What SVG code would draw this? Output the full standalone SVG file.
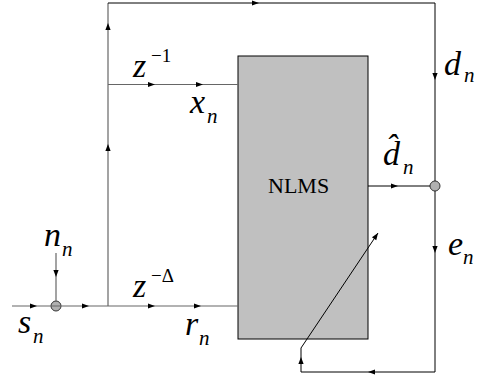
<svg xmlns="http://www.w3.org/2000/svg" xmlns:xlink="http://www.w3.org/1999/xlink" width="480" height="388" viewBox="0 0 480 388">
<style>
.ln{fill:none;stroke:#000;stroke-width:1}
.lg{fill:none;stroke:#666;stroke-width:1.2}
.j{fill:#b0b0b0;stroke:#333;stroke-width:1}
</style>
<defs>
<path id="ah" d="M0,0 L-7,-2.6 L-7,2.6 Z" fill="#000"/>
</defs>
<rect width="480" height="388" fill="#fff"/>
<g id="nlms">
<rect x="238" y="56" width="130" height="283" fill="#c0c0c0" stroke="#000" stroke-width="1"/>
<text x="268" y="193" font-family="Liberation Serif, Times New Roman, serif" font-size="22" fill="#000">NLMS</text>
</g>
<g id="sum1">
<circle class="j" cx="56" cy="306" r="5"/>
</g>
<g id="sum2">
<circle class="j" cx="435" cy="186" r="5"/>
</g>
<g id="connectors">
<path class="lg" d="M12,306 H238"/>
<path class="lg" d="M56,253 V301"/>
<path class="lg" d="M108,306 V3"/>
<path class="ln" d="M108,3 H435 V181 M435,191 V372 H301 V348"/>
<path class="lg" d="M108,84.5 H238"/>
<path class="ln" d="M368,186 H430"/>
<path class="ln" d="M301,348 L378,233"/>
<use xlink:href="#ah" transform="translate(37,306)"/>
<use xlink:href="#ah" transform="translate(89,306)"/>
<use xlink:href="#ah" transform="translate(155,306)"/>
<use xlink:href="#ah" transform="translate(201,306)"/>
<use xlink:href="#ah" transform="translate(56,277) rotate(90)"/>
<use xlink:href="#ah" transform="translate(108,144) rotate(-90)"/>
<use xlink:href="#ah" transform="translate(108,23) rotate(-90)"/>
<use xlink:href="#ah" transform="translate(155,84.5)"/>
<use xlink:href="#ah" transform="translate(203,84.5)"/>
<use xlink:href="#ah" transform="translate(259,3)"/>
<use xlink:href="#ah" transform="translate(435,80) rotate(90)"/>
<use xlink:href="#ah" transform="translate(435,253) rotate(90)"/>
<use xlink:href="#ah" transform="translate(398,186)"/>
<use xlink:href="#ah" transform="translate(368,372) rotate(180)"/>
<use xlink:href="#ah" transform="translate(301,357) rotate(-90)"/>
<use xlink:href="#ah" transform="translate(378,233) rotate(-56.2)"/>
</g>
<g id="labels" font-family="Liberation Serif, Times New Roman, serif" font-style="italic" fill="#000" font-size="34">
<text x="133" y="77">z</text><text x="151" y="62" font-size="19" font-style="normal">−1</text>
<text x="133" y="297">z</text><text x="151" y="282" font-size="19" font-style="normal">−Δ</text>
<text x="190" y="113">x</text><text x="207" y="123" font-size="21">n</text>
<text x="444" y="75">d</text><text x="464" y="82" font-size="21">n</text>
<text x="383" y="165">d&#x302;</text><text x="403" y="174" font-size="21">n</text>
<text x="448" y="255">e</text><text x="463" y="264" font-size="21">n</text>
<text x="44" y="246">n</text><text x="62" y="256" font-size="21">n</text>
<text x="18" y="333">s</text><text x="33" y="343" font-size="21">n</text>
<text x="185" y="335">r</text><text x="199" y="345" font-size="21">n</text>
</g>
</svg>
